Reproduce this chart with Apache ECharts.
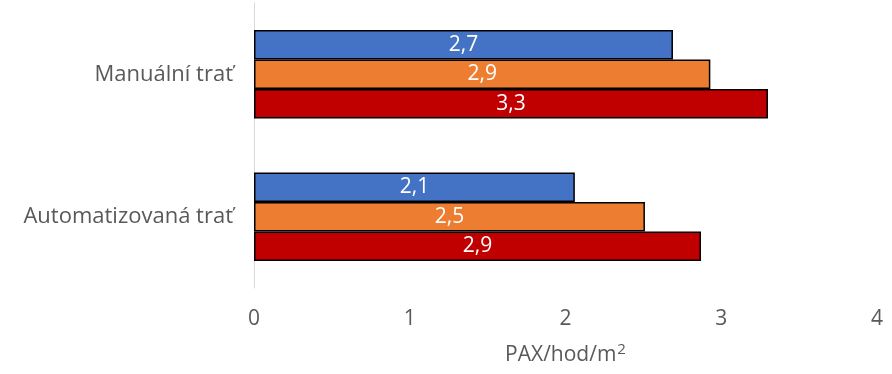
<!DOCTYPE html>
<html>
<head>
<meta charset="utf-8">
<script src="https://cdn.jsdelivr.net/npm/echarts@6/dist/echarts.min.js"></script>
<style>html,body{margin:0;padding:0;background:#fff}#c{width:892px;height:374px}</style>
</head>
<body>
<div id="c"></div>
<script>
const categories = ['Manuální trať', 'Automatizovaná trať'];
const seriesA = [2.69, 2.06];
const seriesB = [2.93, 2.51];
const seriesC = [3.30, 2.87];
const xTicks = [0, 1, 2, 3, 4];
const axisNameBase = 'PAX/hod/m';
const axisNameSup = '2';

const colors = ['#4472C4', '#ED7D31', '#C00000'];
const font = '"Open Sans", "Noto Sans", sans-serif';
const grey = '#595959';

function mk(name, data, color) {
  return {
    name: name, type: 'bar', data: data,
    barGap: '0%', barCategoryGap: '38%',
    itemStyle: { color: color, borderColor: '#000', borderWidth: 1.5 },
    label: {
      show: true, position: 'inside', color: '#fff', fontSize: 21, fontFamily: font,
      formatter: p => p.value.toFixed(1).replace('.', ',')
    }
  };
}

const chart = echarts.init(document.getElementById('c'));
chart.setOption({
  animation: false,
  grid: { left: 254, right: 15, top: 3, bottom: 85, containLabel: false },
  xAxis: {
    type: 'value', min: xTicks[0], max: xTicks[xTicks.length - 1], interval: 1,
    axisLine: { show: false }, axisTick: { show: false }, splitLine: { show: false },
    axisLabel: { color: grey, fontSize: 21, fontFamily: font, margin: 21 },
    name: axisNameBase + '{sup|' + axisNameSup + '}', nameLocation: 'middle', nameGap: 53,
    nameTextStyle: {
      color: grey, fontSize: 21, fontFamily: font, lineHeight: 28,
      rich: { sup: { color: grey, fontSize: 15, fontFamily: font, lineHeight: 15, padding: [0, 0, 11, 1] } }
    }
  },
  yAxis: {
    type: 'category', data: categories, inverse: true,
    axisLine: { show: true, lineStyle: { color: '#d9d9d9', width: 1 } },
    axisTick: { show: false },
    axisLabel: { color: grey, fontSize: 22, fontFamily: font, margin: 21 }
  },
  series: [
    mk('A', seriesA, colors[0]),
    mk('B', seriesB, colors[1]),
    mk('C', seriesC, colors[2])
  ]
});
</script>
</body>
</html>
